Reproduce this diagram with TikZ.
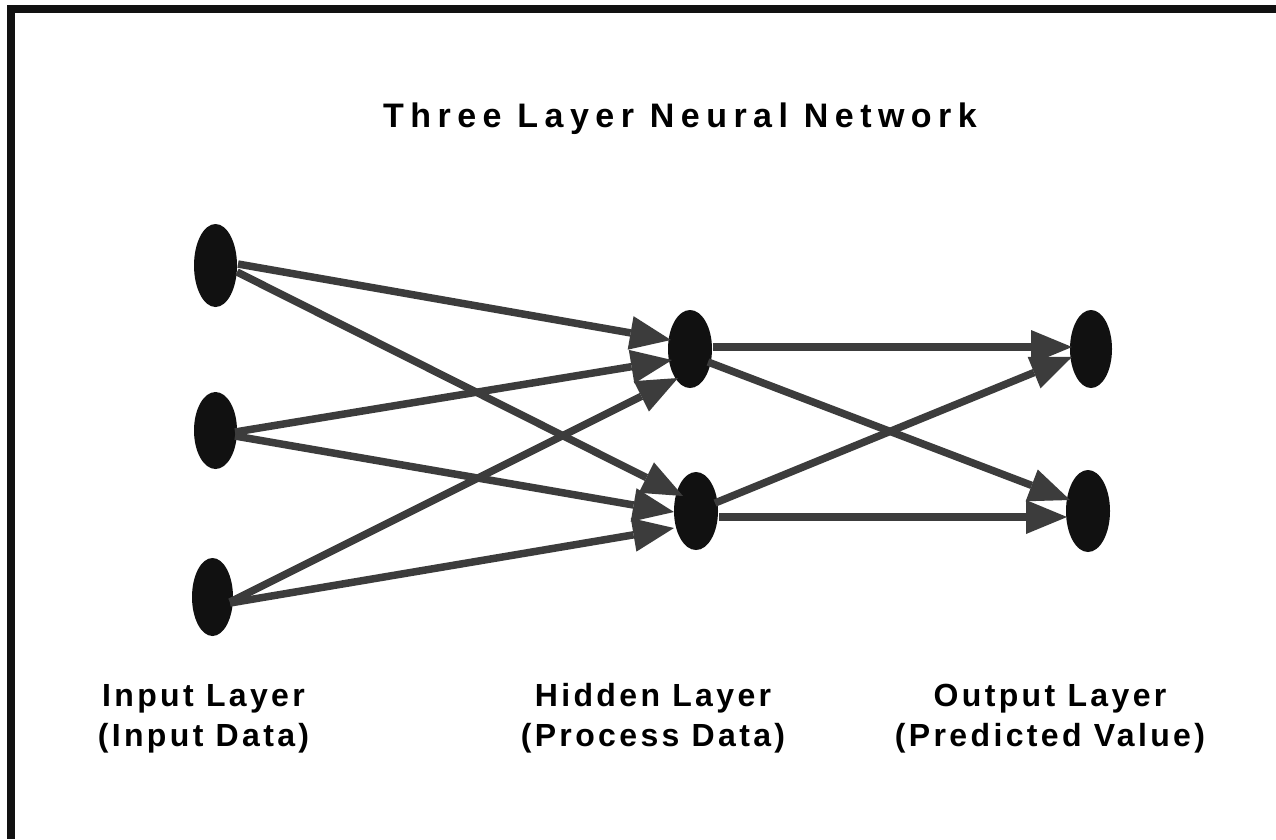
\documentclass[tikz,border=0pt]{standalone}
\usepackage{fontspec}
\setmainfont{Liberation Sans}
\newfontfamily\labfont[LetterSpace=10.5]{Liberation Sans}
\newfontfamily\ttlfont[LetterSpace=19]{Liberation Sans}
\usetikzlibrary{arrows.meta,shapes.geometric}
\definecolor{nodeblack}{HTML}{111111}
\definecolor{edgegray}{HTML}{3C3C3C}
\tikzset{
  neuron/.style={ellipse, fill=nodeblack, inner sep=0pt, minimum width=43pt, minimum height=79pt},
  conn/.style={draw=edgegray, line width=7.5pt, -{Triangle[length=41pt,width=34pt,line width=0pt]}},
  lab/.style={align=center, anchor=base, font=\labfont\bfseries\fontsize{32}{39.5}\selectfont, inner sep=0pt},
  ttl/.style={anchor=base, font=\ttlfont\bfseries\fontsize{34}{40}\selectfont, inner sep=0pt},
  bar/.style={fill=nodeblack, draw=none}
}
\begin{document}
\begin{tikzpicture}[x=1pt,y=-1pt]
\useasboundingbox (0,0) rectangle (1276,839);
\fill[white] (0,0) rectangle (1276,839);
% frame
\path[bar] (7,5) rectangle (1276,13);
\path[bar] (7,5) rectangle (15,839);
% title
\node[ttl] (title) at (680,127) {Three Layer Neural Network};
% neurons
\node[neuron, minimum height=83pt] (I1) at (215.5,265.5) {};
\node[neuron, minimum height=77pt] (I2) at (215.5,430.5) {};
\node[neuron, minimum width=41pt, minimum height=78pt] (I3) at (212.5,597) {};
\node[neuron, minimum width=44pt, minimum height=78pt] (H1) at (690,349) {};
\node[neuron, minimum width=44pt, minimum height=78pt] (H2) at (696,511) {};
\node[neuron, minimum width=42pt, minimum height=78pt] (O1) at (1091,349) {};
\node[neuron, minimum width=44pt, minimum height=82pt] (O2) at (1088,511) {};
% connectors
\draw[conn] ([shift={(22.5,-1.5)}]I1.center) -- ([shift={(-19,-9)}]H1.center);
\draw[conn] ([shift={(21.5,6.5)}]I1.center) -- ([shift={(-13,-15)}]H2.center);
\draw[conn] ([shift={(19.5,1.5)}]I2.center) -- ([shift={(-18,11)}]H1.center);
\draw[conn] ([shift={(19.5,5.5)}]I2.center) -- ([shift={(-22,1)}]H2.center);
\draw[conn] ([shift={(17.5,5)}]I3.center) -- ([shift={(-12,29)}]H1.center);
\draw[conn] ([shift={(17.5,6)}]I3.center) -- ([shift={(-22,17)}]H2.center);
\draw[conn] ([shift={(23,-2)}]H1.center) -- ([shift={(-19,-2)}]O1.center);
\draw[conn] ([shift={(18,13)}]H1.center) -- ([shift={(-18,-11)}]O2.center);
\draw[conn] ([shift={(19,-8)}]H2.center) -- ([shift={(-19,8)}]O1.center);
\draw[conn] ([shift={(23,6)}]H2.center) -- ([shift={(-21,6)}]O2.center);
% labels
\node[lab] (linput) at (203.5,746) {Input Layer\\(Input Data)};
\node[lab] (lhidden) at (653,746) {Hidden Layer\\(Process Data)};
\node[lab] (loutput) at (1050,746) {Output Layer\\(Predicted Value)};
\end{tikzpicture}
\end{document}
